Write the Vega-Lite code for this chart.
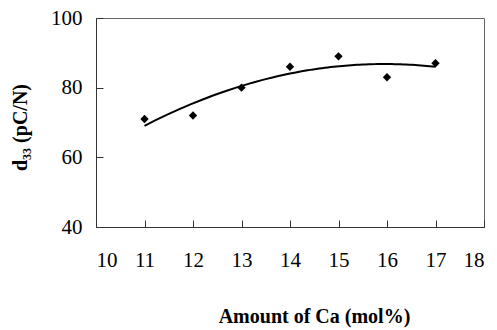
{
  "$schema": "https://vega.github.io/schema/vega-lite/v6.json",
  "autosize": "none",
  "width": 388,
  "height": 209,
  "padding": {"left": 96, "top": 18, "right": 13, "bottom": 103},
  "background": "white",
  "config": {
    "view": {"stroke": "#666666", "strokeWidth": 1},
    "axis": {
      "labelFont": "Liberation Serif",
      "labelFontSize": 21,
      "labelColor": "black",
      "titleFont": "Liberation Serif",
      "titleFontSize": 20,
      "titleFontWeight": "bold",
      "titleColor": "black",
      "domainColor": "#333333",
      "tickColor": "#333333",
      "grid": false
    }
  },
  "data": {
    "values": [
      {"ca": 11, "d33": 71},
      {"ca": 12, "d33": 72},
      {"ca": 13, "d33": 80},
      {"ca": 14, "d33": 86},
      {"ca": 15, "d33": 89},
      {"ca": 16, "d33": 83},
      {"ca": 17, "d33": 87}
    ]
  },
  "layer": [
    {
      "transform": [
        {"regression": "d33", "on": "ca", "method": "poly", "order": 2, "extent": [11, 17]}
      ],
      "mark": {"type": "line", "color": "black", "strokeWidth": 2},
      "encoding": {
        "x": {"field": "ca", "type": "quantitative"},
        "y": {"field": "d33", "type": "quantitative"}
      }
    },
    {
      "mark": {"type": "point", "shape": "diamond", "filled": true, "color": "black", "size": 70, "opacity": 1},
      "encoding": {
        "x": {
          "field": "ca",
          "type": "quantitative",
          "scale": {"domain": [10, 18], "nice": false, "zero": false},
          "axis": {
            "values": [10, 11, 12, 13, 14, 15, 16, 17, 18],
            "tickSize": -7,
            "labelPadding": 29,
            "title": "Amount of Ca (mol%)",
            "titleX": 218,
            "titleY": 95,
            "titleAlign": "center",
            "titleBaseline": "alphabetic"
          }
        },
        "y": {
          "field": "d33",
          "type": "quantitative",
          "scale": {"domain": [40, 100], "nice": false, "zero": false},
          "axis": {
            "values": [40, 60, 80, 100],
            "tickSize": -7,
            "labelPadding": 21,
            "title": "d₃₃ (pC/N)",
            "titleX": -70,
            "titleY": 109,
            "titleAngle": -90,
            "titleAlign": "center",
            "titleBaseline": "alphabetic"
          }
        }
      }
    }
  ]
}
